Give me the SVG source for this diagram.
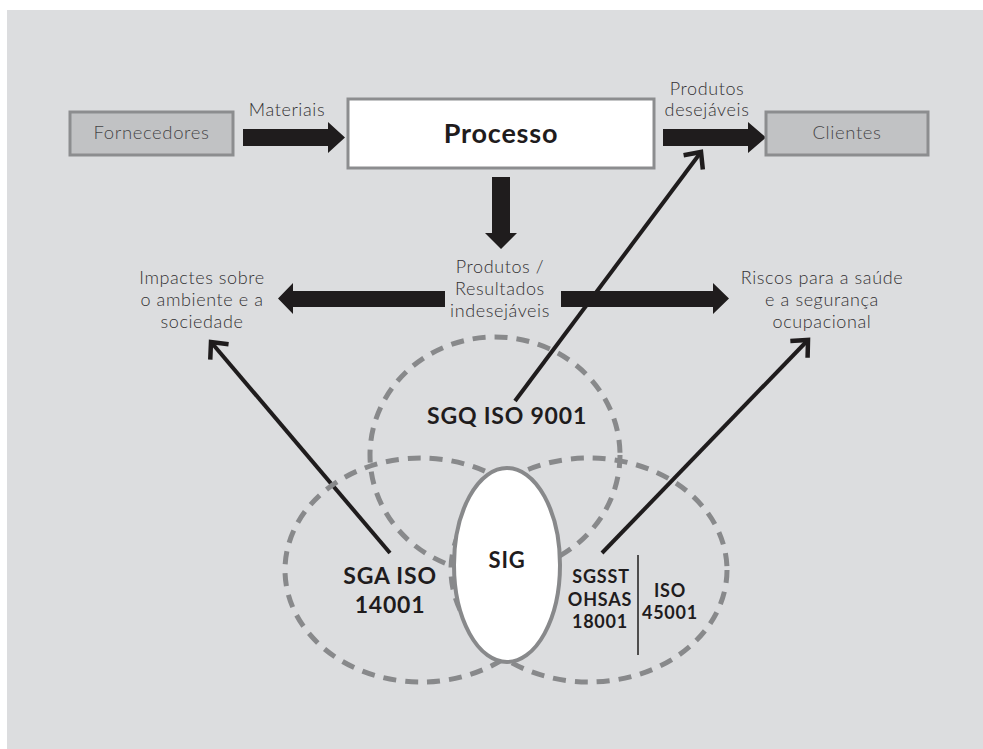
<svg xmlns="http://www.w3.org/2000/svg" width="983" height="749" viewBox="0 0 983 749">
  <style>
    .light { font-family: Lato, "Open Sans", "Liberation Sans", sans-serif; font-weight: 300; fill: #333133; text-anchor: middle; letter-spacing: 0.6px; }
    .boxlabel { font-size: 18.5px; fill: #464547; }
    .flow { font-size: 18px; }
    .bold { font-family: Lato, "Open Sans", "Liberation Sans", sans-serif; font-weight: 700; fill: #1f1c1d; text-anchor: middle; letter-spacing: 0.8px; }
    .ext { fill: #c1c2c4; stroke: #8c8d8f; stroke-width: 3; }
    .proc { fill: #ffffff; stroke: #8c8d8f; stroke-width: 3; }
    .block { fill: #1f1c1d; }
    .link { stroke: #1f1c1d; stroke-width: 4; fill: none; marker-end: url(#chevron); }
    .scope { fill: none; stroke: #88898b; stroke-width: 5; stroke-dasharray: 13 9; }
  </style>
  <defs>
    <marker id="chevron" markerUnits="userSpaceOnUse" viewBox="-16 -16 20 32" markerWidth="20" markerHeight="32" refX="0" refY="0" orient="auto" overflow="visible">
      <path d="M-13,-12 L0,0 L-13,12" fill="none" stroke="#1f1c1d" stroke-width="4.5" stroke-linejoin="miter"/>
    </marker>
  </defs>

  <!-- background panel -->
  <rect x="7" y="10" width="976" height="739" fill="#dcdddf"/>

  <!-- flow arrows and thin links from each management system -->
  <g id="connectors">
    <path class="block" d="M243,129 L328,129 L328,122 L345,137.5 L328,153 L328,146 L243,146 Z"/>
    <path class="block" d="M663,129 L748,129 L748,122 L766,137.5 L748,153 L748,146 L663,146 Z"/>
    <path class="block" d="M492,177 L510,177 L510,233 L517,233 L501,249 L485,233 L492,233 Z"/>
    <path class="block" d="M445,291 L293,291 L293,283 L278,298.5 L293,314 L293,307 L445,307 Z"/>
    <path class="block" d="M561,291 L713,291 L713,283 L729,298.5 L713,314 L713,307 L561,307 Z"/>
    <line class="link" x1="390" y1="553" x2="211" y2="342"/>
    <line class="link" x1="515" y1="401" x2="701" y2="152"/>
    <line class="link" x1="602" y1="553" x2="808" y2="340"/>
  </g>

  <g id="fornecedores">
    <rect class="ext" x="70" y="112" width="163" height="43"/>
    <text class="light boxlabel" x="151.5" y="139">Fornecedores</text>
  </g>

  <g id="processo">
    <rect class="proc" x="348" y="99" width="306" height="69"/>
    <text class="bold" x="501" y="143" font-size="27">Processo</text>
  </g>

  <g id="clientes">
    <rect class="ext" x="766" y="112" width="162" height="43"/>
    <text class="light boxlabel" x="847" y="139">Clientes</text>
  </g>

  <g id="label-materiais">
    <text class="light flow" x="287" y="116">Materiais</text>
  </g>

  <g id="label-desejaveis">
    <text class="light flow" x="707" y="95">Produtos</text>
    <text class="light flow" x="707" y="116">desejáveis</text>
  </g>

  <g id="label-indesejaveis">
    <text class="light flow" x="500" y="273">Produtos /</text>
    <text class="light flow" x="500" y="295">Resultados</text>
    <text class="light flow" x="500" y="317">indesejáveis</text>
  </g>

  <g id="impactes">
    <text class="light flow" x="202" y="284">Impactes sobre</text>
    <text class="light flow" x="202" y="306">o ambiente e a</text>
    <text class="light flow" x="202" y="328">sociedade</text>
  </g>

  <g id="riscos">
    <text class="light flow" x="822" y="284">Riscos para a saúde</text>
    <text class="light flow" x="822" y="306">e a segurança</text>
    <text class="light flow" x="822" y="328">ocupacional</text>
  </g>

  <!-- overlapping scopes of the three standards -->
  <g id="sgq">
    <ellipse class="scope" cx="495" cy="455" rx="125" ry="118"/>
    <text class="bold" x="507" y="424" font-size="23">SGQ ISO 9001</text>
  </g>

  <g id="sga">
    <ellipse class="scope" cx="421" cy="570" rx="136" ry="112"/>
    <text class="bold" x="390" y="584" font-size="23">SGA ISO</text>
    <text class="bold" x="390" y="613" font-size="23">14001</text>
  </g>

  <g id="sgsst">
    <ellipse class="scope" cx="589" cy="570" rx="138" ry="112"/>
    <text class="bold" x="601" y="583" font-size="18">SGSST</text>
    <text class="bold" x="600" y="606" font-size="18">OHSAS</text>
    <text class="bold" x="600" y="628" font-size="18">18001</text>
    <line x1="638" y1="555" x2="638" y2="655" stroke="#1f1c1d" stroke-width="1.5"/>
    <text class="bold" x="670" y="597" font-size="18">ISO</text>
    <text class="bold" x="670" y="619" font-size="18">45001</text>
  </g>

  <g id="sig">
    <ellipse cx="507" cy="565" rx="53" ry="97" fill="#ffffff" stroke="#88898b" stroke-width="4"/>
    <text class="bold" x="507" y="568" font-size="22">SIG</text>
  </g>
</svg>
